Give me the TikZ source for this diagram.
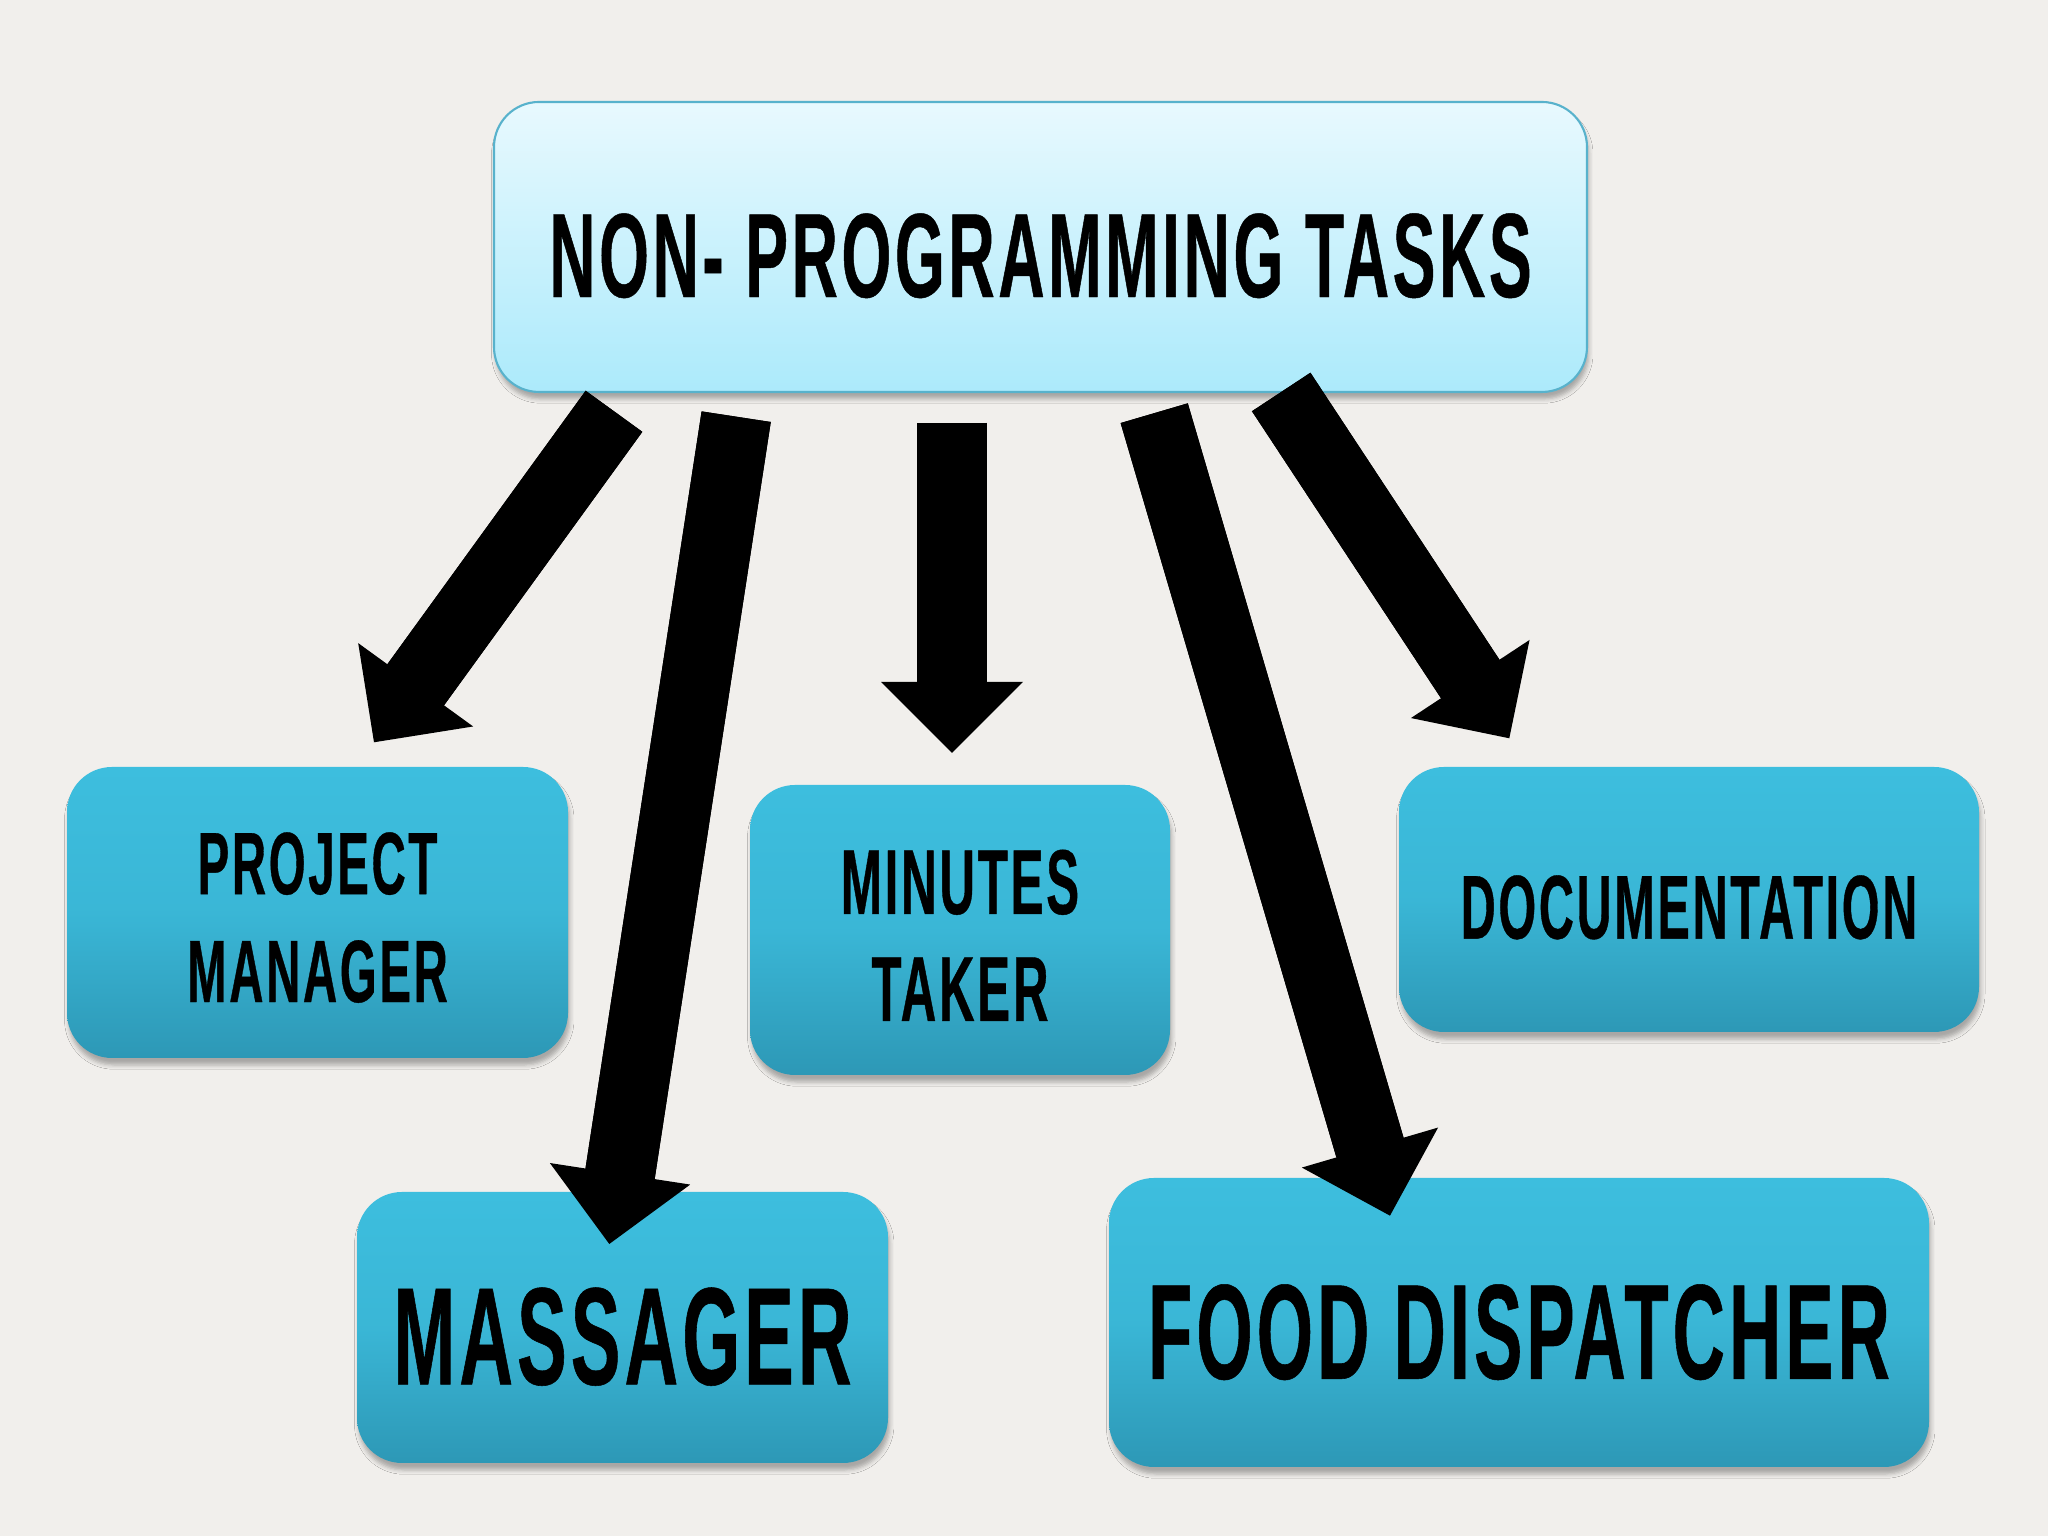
\documentclass[tikz,border=0pt]{standalone}
\usepackage{fontspec}
\usepackage{xcolor}
\newfontfamily\taskfont{Liberation Sans}[FakeStretch=0.535, FakeBold=0.4, LetterSpace=3]
\usetikzlibrary{arrows.meta,shadows.blur,calc}
\definecolor{paper}{RGB}{241,239,236}
\definecolor{paperedge}{RGB}{229,222,206}
\definecolor{toptop}{RGB}{232,249,254}
\definecolor{topbot}{RGB}{172,234,251}
\definecolor{topline}{RGB}{88,178,204}
\definecolor{roletop}{RGB}{61,190,222}
\definecolor{rolebot}{RGB}{45,152,182}
\pgfdeclareradialshading{vignette}{\pgfpoint{0bp}{0bp}}{color(0bp)=(paper); color(36bp)=(paper); color(56bp)=(paperedge); color(72bp)=(paperedge)}

\begin{document}
\begin{tikzpicture}[every node/.style={inner sep=0pt, align=center, text=black},
  lbl/.style n args={3}{font=\taskfont\bfseries\fontsize{#1}{#2}\selectfont, text height=#3},
  box/.style={rounded corners=0.45cm, blur shadow={shadow xshift=0.5pt, shadow yshift=-2pt, shadow blur radius=1.2pt, shadow blur steps=4, shadow opacity=30}},
  topbox/.style={box, draw=topline, line width=0.6pt, top color=toptop, bottom color=topbot},
  rolebox/.style={box, top color=roletop, bottom color=rolebot, middle color=roletop!80!rolebot},
  fatarrow/.style={line width=0.7cm, -{Triangle[width=1.42cm, length=0.71cm, line width=0pt]}},
  shaft/.style={line width=0.7cm}]
  \shade[shading=vignette] (0,0) rectangle (20.48,15.36);
  \useasboundingbox (0,0) rectangle (20.48,15.36);

  \node[topbox, minimum width=10.93cm, minimum height=2.90cm, lbl={34.1pt}{40pt}{28.8pt}] (tasks) at (10.405,12.89) {NON- PROGRAMMING TASKS};

  \node[rolebox, minimum width=5.01cm, minimum height=2.91cm, lbl={25.2pt}{30.7pt}{51.2pt}] (pm) at (3.175,6.235) {PROJECT\\MANAGER};
  \node[rolebox, minimum width=4.20cm, minimum height=2.90cm, lbl={26.2pt}{30.4pt}{51.7pt}] (minutes) at (9.60,6.06) {MINUTES\\TAKER};
  \node[rolebox, minimum width=5.80cm, minimum height=2.65cm, lbl={25.8pt}{31pt}{22.5pt}] (docs) at (16.89,6.365) {DOCUMENTATION};
  \node[rolebox, minimum width=5.31cm, minimum height=2.71cm, lbl={39.5pt}{45pt}{32.8pt}] (massager) at (6.225,2.085) {MASSAGER};
  \node[rolebox, minimum width=8.20cm, minimum height=2.89cm, lbl={38.5pt}{45pt}{32.4pt}] (food) at (15.19,2.135) {FOOD DISPATCHER};

  \coordinate (pm-from) at (6.14,11.247);
  \coordinate (pm-to) at (3.74,7.937);
  \coordinate (massager-from) at (7.362,11.193);
  \coordinate (massager-to) at (6.093,2.92);
  \coordinate (minutes-from) at (9.52,11.13);
  \coordinate (minutes-to) at (9.52,7.83);
  \coordinate (food-from) at (11.542,11.228);
  \coordinate (food-to) at (13.90,3.203);
  \coordinate (docs-from) at (12.812,11.44);
  \coordinate (docs-to) at (15.093,7.977);

  \foreach \n in {pm,massager,minutes,food,docs}{
    \draw[fatarrow] (\n-from) -- (\n-to);
    \draw[shaft] (\n-from) -- ($(\n-to)!0.45cm!(\n-from)$);
  }
\end{tikzpicture}
\end{document}
